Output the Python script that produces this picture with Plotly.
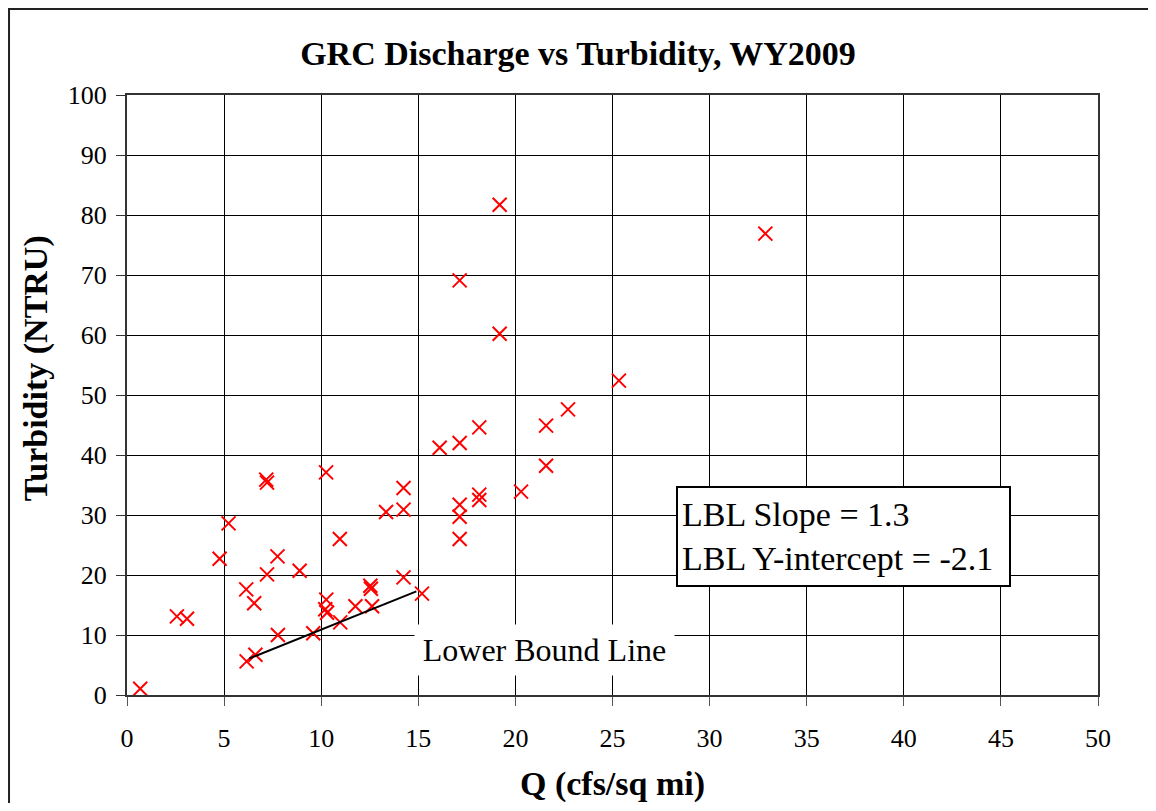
import plotly.graph_objects as go

# discharge (cfs/sq mi) and turbidity (NTRU)
q_vals = [0.68, 2.57, 3.09, 4.77, 5.23, 6.14, 6.55, 7.21, 7.75, 7.17, 7.21,
          8.89, 7.77, 6.16, 6.61, 9.59, 10.25, 10.96, 10.26, 10.21, 10.30,
          10.98, 11.76, 12.53, 12.56, 12.62, 14.24, 15.19, 13.34, 14.24,
          14.24, 16.10, 17.13, 17.13, 17.13, 17.13, 18.14, 18.14, 20.29,
          18.14, 21.58, 21.58, 22.71, 25.33, 19.19, 17.13, 19.19, 32.87]
turb_vals = [1.05, 13.1, 12.7, 22.7, 28.6, 17.6, 15.3, 20.1, 23.1, 35.9, 35.4,
             20.7, 10.0, 5.6, 6.7, 10.3, 37.1, 26.0, 15.9, 14.3, 13.7,
             12.1, 14.8, 18.2, 17.7, 14.8, 19.6, 16.9, 30.5, 30.9,
             34.5, 41.2, 42.0, 31.7, 29.7, 26.0, 33.4, 32.5, 33.9,
             44.6, 44.9, 38.2, 47.6, 52.4, 81.7, 69.1, 60.2, 76.9]

# lower bound line
lbl_slope = 1.3
lbl_intercept = -2.1
lbl_x = [6.3, 14.9]
lbl_y = [lbl_slope * x + lbl_intercept for x in lbl_x]

font_family = "Liberation Serif, Times New Roman, serif"

fig = go.Figure()
fig.add_trace(go.Scatter(
    x=q_vals, y=turb_vals, mode="markers",
    marker=dict(symbol="x-thin", size=14, color="red",
                line=dict(color="red", width=2)),
    showlegend=False,
))
fig.add_trace(go.Scatter(
    x=lbl_x, y=lbl_y, mode="lines",
    line=dict(color="black", width=2),
    showlegend=False,
))

fig.add_annotation(
    x=21.5, y=7.55, xref="x", yref="y",
    text="Lower Bound Line", showarrow=False,
    font=dict(family=font_family, size=32, color="black"),
    bgcolor="white", width=257, height=48,
)
fig.add_annotation(
    x=36.9, y=26.4, xref="x", yref="y",
    text="LBL Slope = 1.3<br>LBL Y-intercept = -2.1",
    showarrow=False, align="left",
    font=dict(family=font_family, size=34, color="black"),
    bgcolor="white", bordercolor="black", borderwidth=2, borderpad=4,
    width=323, height=89,
)
# y axis title (sits a little above the plot centre in the original)
fig.add_annotation(
    x=-0.094, y=0.544, xref="paper", yref="paper",
    text="<b>Turbidity (NTRU)</b>", showarrow=False, textangle=-90,
    xanchor="center", yanchor="middle",
    font=dict(family=font_family, size=34, color="black"),
)

# outer chart frame
fig.add_shape(type="rect", xref="paper", yref="paper",
              x0=-0.1215, x1=1.2, y0=-0.4, y1=1.1433,
              line=dict(color="#222", width=2), layer="below")

fig.update_layout(
    width=1140, height=795,
    margin=dict(l=119, r=50, t=87, b=108),
    paper_bgcolor="white", plot_bgcolor="white",
    font=dict(family=font_family, color="black"),
    title=dict(text="<b>GRC Discharge vs Turbidity, WY2009</b>",
               x=0.5, xref="container", y=0.943, yanchor="middle",
               font=dict(size=34, family=font_family)),
    xaxis=dict(
        range=[0, 50], dtick=5, tick0=0, automargin=False,
        showgrid=True, gridcolor="black", gridwidth=1,
        showline=True, linecolor="#333", linewidth=2, mirror=True,
        ticks="outside", ticklen=9, tickcolor="#555",
        tickfont=dict(size=26), zeroline=False, ticklabelstandoff=10,
        title=dict(text="<b>Q (cfs/sq mi)</b>", font=dict(size=34), standoff=22),
    ),
    yaxis=dict(
        range=[0, 100], dtick=10, tick0=0, automargin=False,
        showgrid=True, gridcolor="black", gridwidth=1,
        showline=True, linecolor="#333", linewidth=2, mirror=True,
        ticks="outside", ticklen=9, tickcolor="#333",
        tickfont=dict(size=26), zeroline=False, ticklabelstandoff=4,
    ),
)

fig.write_html("out.html")
